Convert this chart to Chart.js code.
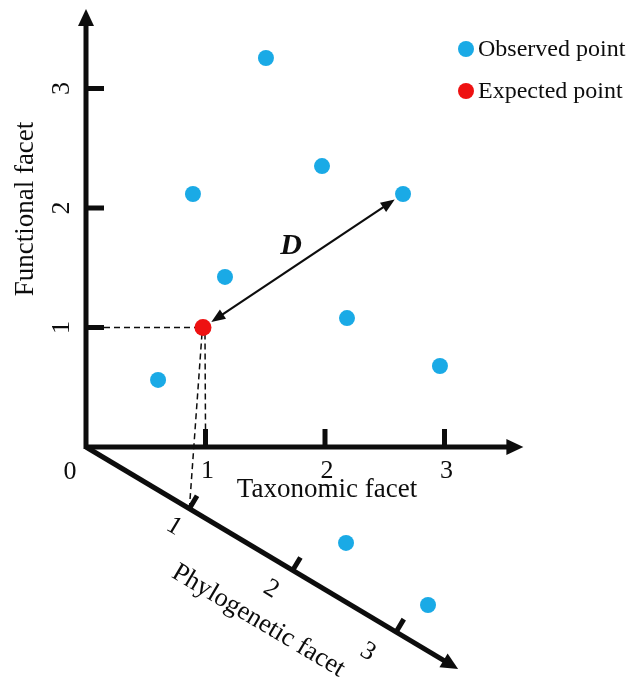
<!DOCTYPE html>
<html>
<head>
<meta charset="utf-8">
<script src="https://cdn.jsdelivr.net/npm/chart.js@4.4.1/dist/chart.umd.min.js"></script>
<style>
  html, body { margin: 0; padding: 0; background: #fff; }
  #wrap { width: 631px; height: 684px; }
</style>
</head>
<body>
<div id="wrap"><canvas id="c" width="631" height="684"></canvas></div>
<script>
// ---- data (diagram units: taxonomic = x, functional = y) ----
const taxonomicTicks = [1, 2, 3];
const functionalTicks = [1, 2, 3];
const phylogeneticTicks = [1, 2, 3];
const observedX = [1.506, 1.975, 0.895, 2.653, 1.163, 2.184, 0.603, 2.962, 2.176, 2.862];
const observedY = [3.255, 2.351, 2.117, 2.117, 1.423, 1.079, 0.561, 0.678, -0.803, -1.322];
const expectedX = [0.979];
const expectedY = [1.0];
const axisTitles = { x: 'Taxonomic facet', y: 'Functional facet', z: 'Phylogenetic facet' };
const legendLabels = ['Observed point', 'Expected point'];
const distanceLabel = 'D';

// ---- geometry / style ----
const phyloDir = [0.865, -0.516];      // one phylogenetic unit, in x/y units
const axisLen = { x: 3.66, y: 3.665, z: 3.6 };
const BLUE = '#1aaae6', RED = '#ee1111', INK = '#0d0d0d';
const FONT = '"Liberation Serif", "Times New Roman", serif';

const toPts = (xs, ys) => xs.map((x, i) => ({ x, y: ys[i] }));

function arrowHead(ctx, tx, ty, ang, len, half) {
  ctx.beginPath();
  ctx.moveTo(tx, ty);
  ctx.lineTo(tx - len * Math.cos(ang) + half * Math.sin(ang), ty - len * Math.sin(ang) - half * Math.cos(ang));
  ctx.lineTo(tx - len * Math.cos(ang) - half * Math.sin(ang), ty - len * Math.sin(ang) + half * Math.cos(ang));
  ctx.closePath();
  ctx.fill();
}

const diagramPlugin = {
  id: 'diagram',
  beforeDatasetsDraw(chart) {
    const ctx = chart.ctx;
    const sx = chart.scales.x, sy = chart.scales.y;
    const P = (x, y) => [sx.getPixelForValue(x), sy.getPixelForValue(y)];
    const PZ = (t) => P(phyloDir[0] * t, phyloDir[1] * t);
    const o = P(0, 0);
    ctx.save();
    ctx.strokeStyle = INK; ctx.fillStyle = INK; ctx.lineCap = 'butt';

    // dashed projection lines of the expected point
    const e = P(expectedX[0], expectedY[0]);
    ctx.setLineDash([6, 4]); ctx.lineWidth = 1.5;
    ctx.beginPath();
    const yt = P(0, expectedY[0]);
    ctx.moveTo(yt[0] + 18, yt[1]); ctx.lineTo(e[0] - 6, e[1]);
    const xt = P(1, 0);
    ctx.moveTo(e[0] + 2, e[1] + 6); ctx.lineTo(xt[0], xt[1] - 17);
    const zt = PZ(1);
    ctx.moveTo(e[0] - 1, e[1] + 6); ctx.lineTo(zt[0], zt[1]);
    ctx.stroke();
    ctx.setLineDash([]);

    // main axes
    ctx.lineWidth = 5;
    const xe = P(axisLen.x, 0), ye = P(0, axisLen.y), ze = PZ(axisLen.z);
    ctx.beginPath();
    ctx.moveTo(o[0], o[1]); ctx.lineTo(xe[0] - 10, xe[1]);
    ctx.moveTo(o[0], o[1] + 2); ctx.lineTo(ye[0], ye[1] + 10);
    ctx.stroke();
    const ang = Math.atan2(ze[1] - o[1], ze[0] - o[0]);
    ctx.beginPath();
    ctx.moveTo(o[0], o[1]);
    ctx.lineTo(ze[0] - 10 * Math.cos(ang), ze[1] - 10 * Math.sin(ang));
    ctx.stroke();
    arrowHead(ctx, xe[0], xe[1], 0, 17, 8);
    arrowHead(ctx, ye[0], ye[1], -Math.PI / 2, 17, 8);
    arrowHead(ctx, ze[0], ze[1], ang, 17, 8);

    // tick marks
    ctx.lineWidth = 5;
    ctx.beginPath();
    taxonomicTicks.forEach(v => { const p = P(v, 0); ctx.moveTo(p[0], p[1]); ctx.lineTo(p[0], p[1] - 18); });
    functionalTicks.forEach(v => { const p = P(0, v); ctx.moveTo(p[0], p[1]); ctx.lineTo(p[0] + 18, p[1]); });
    const px = Math.sin(ang), py = -Math.cos(ang);   // perpendicular (up-right)
    phylogeneticTicks.forEach(v => { const p = PZ(v); ctx.moveTo(p[0], p[1]); ctx.lineTo(p[0] + px * 15, p[1] + py * 15); });
    ctx.stroke();

    // tick labels
    ctx.font = '26px ' + FONT;
    ctx.textAlign = 'center'; ctx.textBaseline = 'middle';
    ctx.fillText('0', o[0] - 16, o[1] + 25);
    taxonomicTicks.forEach(v => { const p = P(v, 0); ctx.fillText(String(v), p[0] + 2, p[1] + 24); });
    functionalTicks.forEach(v => {
      const p = P(0, v);
      ctx.save(); ctx.translate(p[0] - 24, p[1]); ctx.rotate(-Math.PI / 2);
      ctx.fillText(String(v), 0, 0); ctx.restore();
    });
    phylogeneticTicks.forEach((v, i) => {
      const p = PZ(v);
      const off = 19 + 4.2 * (i + 1), back = 5 * (i + 1) - 1;
      const lx = p[0] - px * off - Math.cos(ang) * back, ly = p[1] - py * off - Math.sin(ang) * back;
      ctx.save(); ctx.translate(lx, ly); ctx.rotate(ang);
      ctx.fillText(String(v), 0, 0); ctx.restore();
    });

    // axis titles
    ctx.font = '27px ' + FONT;
    const xm = P(2.0, 0);
    ctx.fillText(axisTitles.x, xm[0] + 2, xm[1] + 43);
    const ym = P(0, 2.0);
    ctx.save(); ctx.translate(ym[0] - 60, ym[1] + 1); ctx.rotate(-Math.PI / 2);
    ctx.fillText(axisTitles.y, 0, 0); ctx.restore();
    const zm = PZ(1.97);
    ctx.font = '26.5px ' + FONT;
    ctx.save(); ctx.translate(zm[0] - px * 61, zm[1] - py * 61); ctx.rotate(ang);
    ctx.fillText(axisTitles.z, 0, 0); ctx.restore();

    ctx.restore();
  },
  afterDatasetsDraw(chart) {
    const ctx = chart.ctx;
    const sx = chart.scales.x, sy = chart.scales.y;
    const P = (x, y) => [sx.getPixelForValue(x), sy.getPixelForValue(y)];
    ctx.save();
    ctx.strokeStyle = INK; ctx.fillStyle = INK;

    // distance arrow D between expected point and one observed point
    const a = P(expectedX[0], expectedY[0]);
    const b = P(observedX[3], observedY[3]);
    const ang = Math.atan2(b[1] - a[1], b[0] - a[0]);
    const a2 = [a[0] + 10 * Math.cos(ang), a[1] + 10 * Math.sin(ang)];
    const b2 = [b[0] - 10 * Math.cos(ang), b[1] - 10 * Math.sin(ang)];
    ctx.lineWidth = 2.2;
    ctx.beginPath();
    ctx.moveTo(a2[0] + 10 * Math.cos(ang), a2[1] + 10 * Math.sin(ang));
    ctx.lineTo(b2[0] - 10 * Math.cos(ang), b2[1] - 10 * Math.sin(ang));
    ctx.stroke();
    arrowHead(ctx, a2[0], a2[1], ang + Math.PI, 14, 5.5);
    arrowHead(ctx, b2[0], b2[1], ang, 14, 5.5);
    ctx.font = 'italic bold 30px ' + FONT;
    ctx.textAlign = 'center'; ctx.textBaseline = 'middle';
    const m = [(a[0] + b[0]) / 2, (a[1] + b[1]) / 2];
    ctx.fillText(distanceLabel, m[0] - 12, m[1] - 15);

    // legend
    ctx.font = '24px ' + FONT;
    ctx.textAlign = 'left';
    [[BLUE, legendLabels[0], 49], [RED, legendLabels[1], 91]].forEach(([c, t, y]) => {
      ctx.fillStyle = c;
      ctx.beginPath(); ctx.arc(466, y, 8, 0, Math.PI * 2); ctx.fill();
      ctx.fillStyle = INK;
      ctx.fillText(t, 478, y + 1);
    });
    ctx.restore();
  }
};

new Chart(document.getElementById('c'), {
  type: 'scatter',
  data: {
    datasets: [
      { label: legendLabels[0], data: toPts(observedX, observedY), backgroundColor: BLUE, borderWidth: 0, pointRadius: 8 },
      { label: legendLabels[1], data: toPts(expectedX, expectedY), backgroundColor: RED, borderWidth: 0, pointRadius: 8.5 }
    ]
  },
  options: {
    responsive: false,
    animation: false,
    events: [],
    layout: { padding: 0, autoPadding: false },
    plugins: { legend: { display: false }, tooltip: { enabled: false } },
    scales: {
      x: { type: 'linear', display: false, min: -86 / 119.5, max: (631 - 86) / 119.5 },
      y: { type: 'linear', display: false, min: (447 - 684) / 119.5, max: 447 / 119.5 }
    }
  },
  plugins: [diagramPlugin]
});
</script>
</body>
</html>
